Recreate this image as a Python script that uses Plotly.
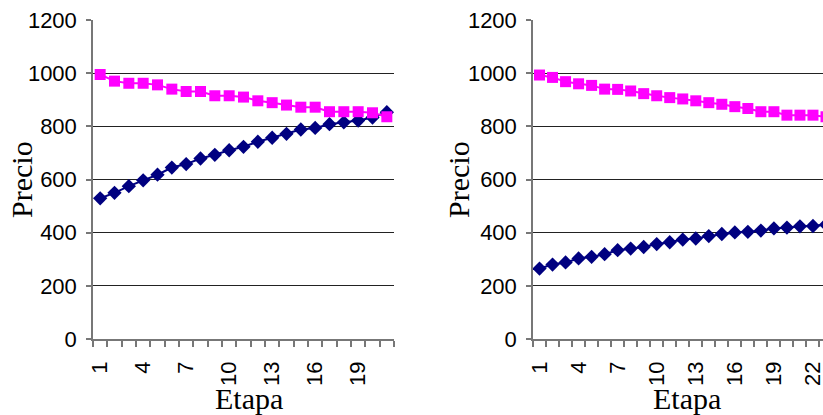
import plotly.graph_objects as go
from plotly.subplots import make_subplots

# Stage numbers and prices for the two scenarios
etapa_a = list(range(1, 22))
precio_alto_a = [995, 970, 962, 962, 956, 940, 931, 931, 915, 915, 910,
                 896, 889, 880, 872, 872, 855, 855, 855, 851, 836]
precio_bajo_a = [529, 550, 575, 597, 618, 645, 658, 679, 693, 710, 723,
                 742, 757, 772, 788, 794, 808, 815, 822, 833, 853]

etapa_b = list(range(1, 24))
precio_alto_b = [993, 984, 968, 960, 954, 940, 939, 933, 923, 915, 908, 903,
                 896, 889, 883, 874, 867, 855, 855, 842, 842, 842, 836]
precio_bajo_b = [265, 280, 288, 303, 309, 319, 334, 340, 346, 357, 364, 374,
                 378, 387, 395, 401, 403, 408, 416, 419, 424, 425, 430]

y_ticks = [0, 200, 400, 600, 800, 1000, 1200]
x_ticks_a = [1, 4, 7, 10, 13, 16, 19]
x_ticks_b = [1, 4, 7, 10, 13, 16, 19, 22]

W, H = 823, 415
MAGENTA = "#FF00FF"
NAVY = "#000080"

fig = make_subplots(rows=1, cols=2)


def add_series(x, y, color, symbol, size, col):
    fig.add_trace(go.Scatter(
        x=x, y=y, mode="lines+markers",
        line=dict(color=color, width=2),
        marker=dict(symbol=symbol, size=size, color=color),
        showlegend=False, cliponaxis=True,
    ), row=1, col=col)


add_series(etapa_a, precio_bajo_a, NAVY, "diamond", 11, 1)
add_series(etapa_a, precio_alto_a, MAGENTA, "square", 11, 1)
add_series(etapa_b, precio_bajo_b, NAVY, "diamond", 11, 2)
add_series(etapa_b, precio_alto_b, MAGENTA, "square", 11, 2)

TICK_FONT = dict(family="Arial, Liberation Sans, sans-serif", size=22, color="#000")


def x_axis(ticks, upper, domain):
    return dict(
        domain=domain, range=[0.5, upper], automargin=False,
        tickmode="array", tickvals=ticks, ticktext=[str(t) for t in ticks],
        tickangle=-90, ticks="", showgrid=False, tickfont=TICK_FONT,
        ticklabelstandoff=12, ticklabeloverflow="allow",
        zeroline=False, showline=True, linecolor="#777", linewidth=1.5,
        minor=dict(tickmode="array",
                   tickvals=[v + 0.5 for v in range(0, int(upper) + 1)],
                   ticks="outside", ticklen=6, tickcolor="#777",
                   tickwidth=1.5, showgrid=False),
    )


def y_axis():
    return dict(
        range=[0, 1200], tickmode="array", tickvals=y_ticks, automargin=False,
        ticks="outside", ticklen=5, tickcolor="#777", tickfont=TICK_FONT,
        tickwidth=1.5, showgrid=True, gridcolor="#222", gridwidth=1,
        ticklabelstandoff=5,
        zeroline=False, showline=True, linecolor="#777", linewidth=1.5,
    )


top, bottom = 20, 339
fig.update_layout(
    width=W, height=H,
    margin=dict(l=0, r=0, t=top, b=H - bottom, autoexpand=False),
    paper_bgcolor="white", plot_bgcolor="white",
    xaxis=x_axis(x_ticks_a, 21.5, [93 / W, 394 / W]),
    xaxis2=x_axis(x_ticks_b, 22.77, [533 / W, 1.0]),
    yaxis=y_axis(), yaxis2=y_axis(),
)

title_font = dict(family="Liberation Serif, Times New Roman, serif", size=30, color="#000")
ph = bottom - top


def py(pixel_y):
    return (bottom - pixel_y) / ph


for cx in (249, 687):
    fig.add_annotation(text="Etapa", x=cx / W, y=py(398), xref="paper", yref="paper",
                       showarrow=False, font=title_font, xanchor="center", yanchor="middle")
for cx in (22, 459):
    fig.add_annotation(text="Precio", x=cx / W, y=py(180), xref="paper", yref="paper",
                       showarrow=False, font=title_font, textangle=-90,
                       xanchor="center", yanchor="middle")

fig.write_html("out.html")
